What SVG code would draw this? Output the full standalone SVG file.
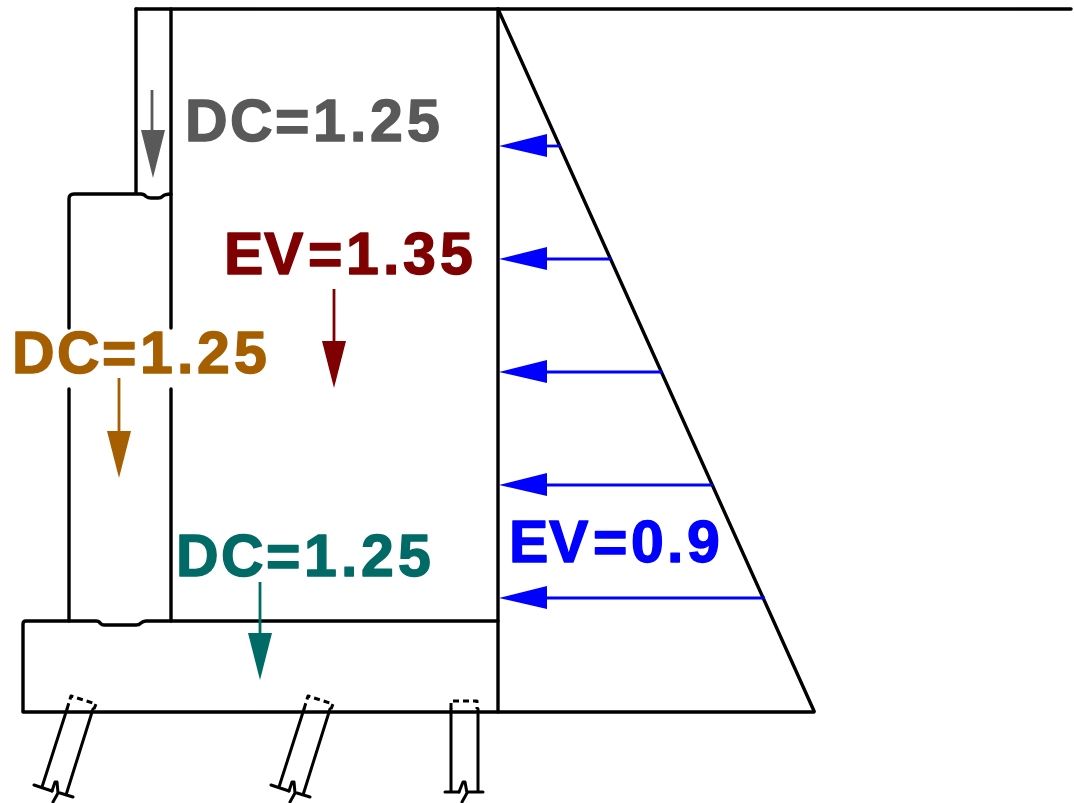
<svg xmlns="http://www.w3.org/2000/svg" width="1074" height="803" viewBox="0 0 1074 803">
<style>
.s{fill:none;stroke:#000;stroke-width:3.4;stroke-linecap:round;stroke-linejoin:round}
.t{fill:none;stroke:#000;stroke-width:3;stroke-linecap:round;stroke-linejoin:round}
.d{stroke-dasharray:6 4;stroke-linecap:butt}
.l{font-family:"Liberation Sans",Arial,sans-serif;font-size:59px;font-weight:700;stroke-width:1.4px;stroke-linejoin:round}
.b{stroke:#0000ff;stroke-width:2.8;fill:none}
.bh{fill:#0000ff}
</style>
<rect width="1074" height="803" fill="#fff"/>
<g id="wall">
<path class="s" d="M136 9H1071"/>
<path class="s" d="M136 9V193"/>
<path class="s" d="M171 9V328M171 389V621"/>
<path class="s" d="M69 328V199Q69 194 74 194H141Q144 194 146 196.500Q148 198 151 198H158Q161 198 163 196Q165 194 171 194"/>
<path class="s" d="M69 389V621"/>
<path class="s" d="M498 9V712"/>
<path class="s" d="M498 9L814 711"/>
</g>
<g id="footing">
<path class="s" d="M23 711V624Q23 621 26 621H96Q99 621 100 623Q102 625 104 625H136Q139 625 141 623Q143 621 146 621H498"/>
<path class="s" d="M23 712H814"/>
</g>
<g id="pile-1">
<path class="t" d="M67 709L42 787M93 709L66 795M34 785L52 791M60 793L73 797"/>
<path class="t d" d="M67 709L71 696L96 704L94 709"/>
<path class="t" d="M52 791L55 782L57 782L58 793L53 802"/>
</g>
<g id="pile-2">
<path class="t" d="M304 709L279 787M330 709L303 795M271 785L289 791M297 793L310 797"/>
<path class="t d" d="M304 709L308 696L333 704L331 709"/>
<path class="t" d="M289 791L292 782L294 782L295 793L290 802"/>
</g>
<g id="pile-3">
<path class="t" d="M451 709V792M478 709V792M445 792H459M468 792H483"/>
<path class="t d" d="M451 709V701H477V709"/>
<path class="t" d="M459 792L463 782L465 782L467 793L462 802"/>
</g>
<g id="connectors">
<g id="arrow-grey" fill="#595959" stroke="#595959"><path d="M152 90V131" stroke-width="2.8" fill="none"/><path d="M141 130H165L153 178Z" stroke="none"/></g>
<g id="arrow-red" fill="#7f0000" stroke="#7f0000"><path d="M334 289V342" stroke-width="2.8" fill="none"/><path d="M322 341H346L334 388Z" stroke="none"/></g>
<g id="arrow-orange" fill="#a65f00" stroke="#a65f00"><path d="M119 378V431" stroke-width="2.8" fill="none"/><path d="M107 431H131L119 478Z" stroke="none"/></g>
<g id="arrow-teal" fill="#006b66" stroke="#006b66"><path d="M260 582V634" stroke-width="2.8" fill="none"/><path d="M248 633H272L260 680Z" stroke="none"/></g>
<g id="arrows-blue">
<path class="b" d="M540 146H561"/><path class="bh" d="M499 146L547 134V157Z"/>
<path class="b" d="M540 259H611"/><path class="bh" d="M499 259L547 247V270Z"/>
<path class="b" d="M540 372H662"/><path class="bh" d="M499 372L547 360V383Z"/>
<path class="b" d="M540 485H713"/><path class="bh" d="M499 485L547 473V496Z"/>
<path class="b" d="M540 598H765"/><path class="bh" d="M499 598L547 586V609Z"/>
</g>
</g>
<g id="labels">
<text class="l" x="185 230 275 313 350 370 407" y="141" fill="#595959" stroke="#595959">DC=1.25</text>
<text class="l" x="224 264 308 346 383 403 440" y="274" fill="#7f0000" stroke="#7f0000">EV=1.35</text>
<text class="l" x="12 57 102 140 177 197 234" y="373" fill="#a65f00" stroke="#a65f00">DC=1.25</text>
<text class="l" x="176 221 266 304 341 361 398" y="576" fill="#006b66" stroke="#006b66">DC=1.25</text>
<text class="l" x="509 549 593 631 667 687" y="562" fill="#0000ff" stroke="#0000ff">EV=0.9</text>
</g>
</svg>
